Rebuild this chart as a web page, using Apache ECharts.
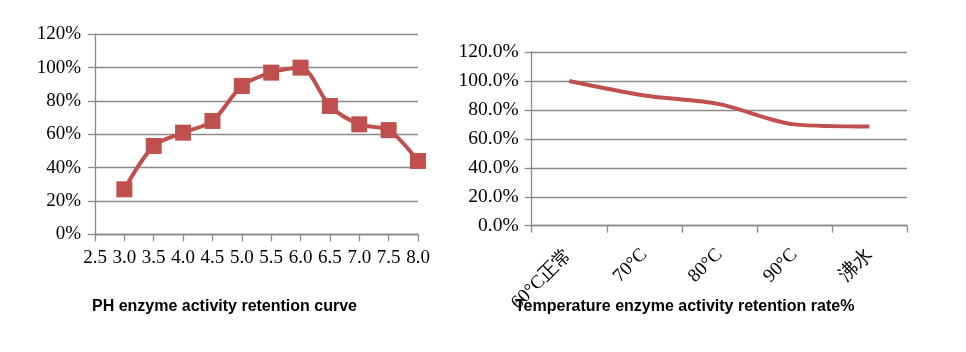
<!DOCTYPE html>
<html lang="zh">
<head>
    <meta charset="UTF-8">
    <title>酶活性保留</title>
    <script src="https://cdn.jsdelivr.net/npm/echarts/dist/echarts.min.js"></script>
    <style>
        html, body { margin: 0; padding: 0; background: #fff; }
        #main { width: 966px; height: 352px; }
    </style>
</head>
<body>
    <div id="main"></div>
    <script>
        // PH 曲线数据
        var phValues = [3.0, 3.5, 4.0, 4.5, 5.0, 5.5, 6.0, 6.5, 7.0, 7.5, 8.0];
        var phRetention = [0.27, 0.53, 0.61, 0.68, 0.89, 0.97, 1.00, 0.77, 0.66, 0.625, 0.44];

        // 温度数据
        var tempCategories = ['60°C正常', '70°C', '80°C', '90°C', '沸水'];
        var tempRetention = [1.00, 0.90, 0.84, 0.70, 0.685];

        var red = '#c0504d';
        var gridGray = '#8a8a8a';
        var serif = '"Liberation Serif", "Times New Roman", serif';
        var titleFont = { fontFamily: '"Liberation Sans", Arial, sans-serif', fontSize: 16, fontWeight: 'bold', color: '#000' };

        var chartDom = document.getElementById('main');
        var myChart = echarts.init(chartDom);

        var option = {
            animation: false,
            title: [
                { text: 'PH enzyme activity retention curve', left: 87, top: 294, textStyle: titleFont },
                { text: 'Temperature enzyme activity retention rate%', left: 510, top: 294, textStyle: titleFont }
            ],
            grid: [
                { left: 95, top: 34.3, width: 323, height: 200, outerBoundsMode: 'none' },
                { left: 531.7, top: 52, width: 375.3, height: 173.7, outerBoundsMode: 'none' }
            ],
            xAxis: [
                {
                    gridIndex: 0,
                    type: 'value',
                    min: 2.5, max: 8.0, interval: 0.5,
                    axisLine: { show: true, lineStyle: { color: gridGray, width: 1.3 } },
                    axisTick: { show: true, inside: false, length: 7, lineStyle: { color: gridGray, width: 1.3 } },
                    splitLine: { show: false },
                    axisLabel: {
                        margin: 14,
                        color: '#000', fontFamily: serif, fontSize: 19,
                        formatter: function (v) { return v.toFixed(1); }
                    }
                },
                {
                    gridIndex: 1,
                    type: 'category',
                    data: tempCategories,
                    boundaryGap: true,
                    axisLine: { show: true, lineStyle: { color: gridGray, width: 1.3 } },
                    axisTick: { show: true, alignWithLabel: false, length: 7, lineStyle: { color: gridGray, width: 1.3 } },
                    splitLine: { show: false },
                    axisLabel: {
                        rotate: 45, margin: 26, interval: 0,
                        color: '#000', fontFamily: serif, fontSize: 19
                    }
                }
            ],
            yAxis: [
                {
                    gridIndex: 0,
                    type: 'value',
                    min: 0, max: 1.2, interval: 0.2,
                    axisLine: { show: true, lineStyle: { color: gridGray, width: 1.3 } },
                    axisTick: { show: true, length: 7, lineStyle: { color: gridGray, width: 1.3 } },
                    splitLine: { show: true, lineStyle: { color: gridGray, width: 1.3 } },
                    axisLabel: {
                        margin: 14,
                        color: '#000', fontFamily: serif, fontSize: 19,
                        formatter: function (v) { return Math.round(v * 100) + '%'; }
                    }
                },
                {
                    gridIndex: 1,
                    type: 'value',
                    min: 0, max: 1.2, interval: 0.2,
                    axisLine: { show: true, lineStyle: { color: gridGray, width: 1.3 } },
                    axisTick: { show: true, length: 7, lineStyle: { color: gridGray, width: 1.3 } },
                    splitLine: { show: true, lineStyle: { color: gridGray, width: 1.3 } },
                    axisLabel: {
                        margin: 13,
                        color: '#000', fontFamily: serif, fontSize: 19.5,
                        formatter: function (v) { return (v * 100).toFixed(1) + '%'; }
                    }
                }
            ],
            series: [
                {
                    type: 'line',
                    xAxisIndex: 0, yAxisIndex: 0,
                    data: phValues.map(function (x, i) { return [x, phRetention[i]]; }),
                    smooth: 0.3,
                    symbol: 'rect',
                    symbolSize: 16,
                    itemStyle: { color: red },
                    lineStyle: { color: red, width: 4 }
                },
                {
                    type: 'line',
                    xAxisIndex: 1, yAxisIndex: 1,
                    data: tempRetention,
                    smooth: 0.3,
                    showSymbol: false,
                    symbol: 'none',
                    lineStyle: { color: red, width: 4 }
                }
            ]
        };

        myChart.setOption(option);

        window.addEventListener('resize', function () {
            myChart.resize();
        });
    </script>
</body>
</html>
